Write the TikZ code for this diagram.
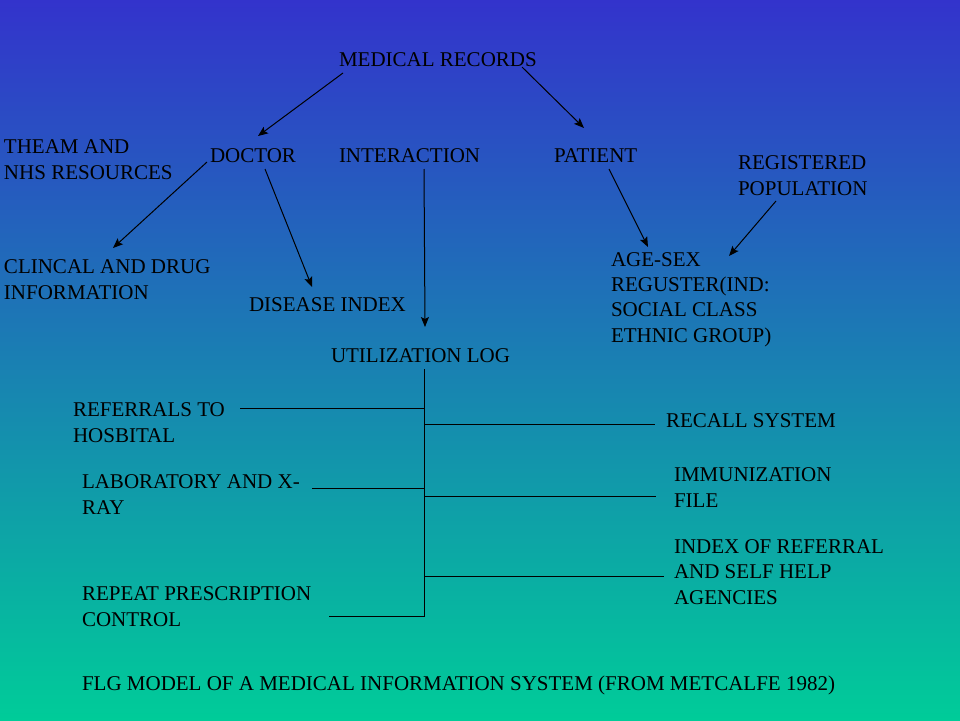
\documentclass[tikz,border=0pt]{standalone}
\usepackage{fontspec}
\setmainfont{Liberation Serif}
\usetikzlibrary{arrows.meta,calc}
\definecolor{bgtop}{HTML}{3333CC}
\definecolor{bgmid}{HTML}{2095BA}
\definecolor{bgbot}{HTML}{00CC99}
\definecolor{ink}{HTML}{000000}
\tikzset{
  lbl/.style={anchor=base west,inner sep=0pt,outer sep=0pt,align=left,text=ink,font=\fontsize{21}{25.3}\selectfont},
  arr/.style={draw=ink,line width=1pt,-{Stealth[length=10pt,width=8pt,inset=2pt]}},
  ln/.style={draw=ink,line width=1pt}
}
\begin{document}
\begin{tikzpicture}[x=1pt,y=-1pt]
\useasboundingbox (0,0) rectangle (960,720);
\shade[top color=bgtop,middle color=bgmid,bottom color=bgbot] (0,0) rectangle (960,720);

% multi-line nodes are placed by the baseline of their last line
\node[lbl] (mr) at (339,66) {MEDICAL RECORDS};
\node[lbl] (team) at (4,179) {THEAM AND\\NHS RESOURCES};
\node[lbl] (doc) at (210,162) {DOCTOR};
\node[lbl] (inter) at (339,162) {INTERACTION};
\node[lbl] (pat) at (554,162) {PATIENT};
\node[lbl] (reg) at (738,195) {REGISTERED\\POPULATION};
\node[lbl] (clin) at (4,299) {CLINCAL AND DRUG\\INFORMATION};
\node[lbl] (dis) at (249,311) {DISEASE INDEX};
\node[lbl] (age) at (611,342) {AGE-SEX\\REGUSTER(IND:\\SOCIAL CLASS\\ETHNIC GROUP)};
\node[lbl] (util) at (331,362) {UTILIZATION LOG};
\node[lbl] (ref) at (73,442) {REFERRALS TO\\HOSBITAL};
\node[lbl] (recall) at (666,427) {RECALL SYSTEM};
\node[lbl] (lab) at (82,514) {LABORATORY AND X-\\RAY};
\node[lbl] (imm) at (674,507) {IMMUNIZATION\\FILE};
\node[lbl] (idx) at (674,604) {INDEX OF REFERRAL\\AND SELF HELP\\AGENCIES};
\node[lbl] (rep) at (82,626) {REPEAT PRESCRIPTION\\CONTROL};
\node[lbl] (flg) at (82,690) {FLG MODEL OF A MEDICAL INFORMATION SYSTEM (FROM METCALFE 1982)};

% arrows
\draw[arr] ($(mr.base west)+(4,7)$) -- ($(doc.base west)+(48,-26)$);
\draw[arr] ($(mr.base west)+(183,1)$) -- ($(pat.base west)+(30,-34)$);
\draw[arr] ($(doc.base west)+(-3,0)$) -- ($(clin.base west)+(109,-51)$);
\draw[arr] ($(doc.base west)+(55,7)$) -- ($(dis.base west)+(63,-24)$);
\draw[arr] ($(inter.base west)+(85,7)$) -- ($(util.base west)+(94,-35)$);
\draw[arr] ($(pat.base west)+(55,7)$) -- ($(age.base west)+(37,-95)$);
\draw[arr] ($(reg.base west)+(38,6)$) -- ($(age.base west)+(118,-86)$);

% tree
\coordinate (trunk) at ($(util.base west)+(93,7)$);
\coordinate (refE) at ($(ref.base west)+(167,-34)$);
\coordinate (recE) at ($(recall.base west)+(-11,-3)$);
\coordinate (labE) at ($(lab.base west)+(230,-26)$);
\coordinate (immE) at ($(imm.base west)+(-18,-11)$);
\coordinate (idxE) at ($(idx.base west)+(-10,-28)$);
\coordinate (repE) at ($(rep.base west)+(247,-10)$);
\draw[ln] (trunk) -- (trunk |- repE) -- (repE);
\draw[ln] (refE) -- (trunk |- refE);
\draw[ln] (trunk |- recE) -- (recE);
\draw[ln] (labE) -- (trunk |- labE);
\draw[ln] (trunk |- immE) -- (immE);
\draw[ln] (trunk |- idxE) -- (idxE);
\end{tikzpicture}
\end{document}
